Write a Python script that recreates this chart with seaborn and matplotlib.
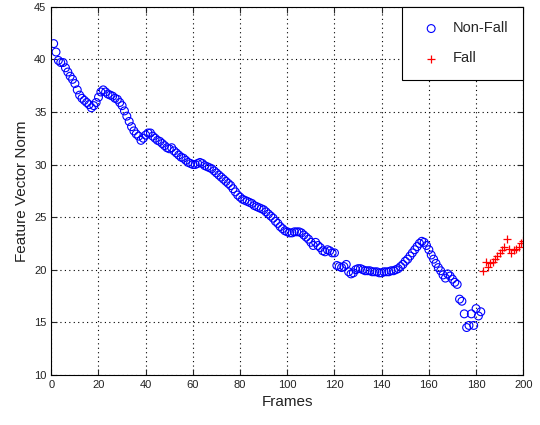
import numpy as np
import pandas as pd
import seaborn as sns
from matplotlib import pyplot as plt

# Norma do vetor por frame
nonfall_values = [
    41.5, 40.7, 39.9, 39.7, 39.7, 39.2, 38.8, 38.4, 38.1, 37.7,
    37.1, 36.6, 36.3, 36.1, 35.9, 35.7, 35.4, 35.6, 35.9, 36.4,
    36.9, 37.1, 36.9, 36.7, 36.6, 36.5, 36.3, 36.2, 35.9, 35.6,
    35.1, 34.6, 34.1, 33.6, 33.2, 32.9, 32.7, 32.3, 32.5, 32.8,
    33.0, 33.0, 32.7, 32.5, 32.3, 32.2, 32.0, 31.8, 31.6, 31.5,
    31.6, 31.3, 31.1, 30.9, 30.7, 30.6, 30.4, 30.2, 30.1, 30.0,
    30.0, 30.1, 30.2, 30.1, 29.9, 29.8, 29.7, 29.6, 29.4, 29.2,
    29.0, 28.8, 28.6, 28.4, 28.2, 28.0, 27.7, 27.4, 27.1, 26.9,
    26.7, 26.6, 26.5, 26.4, 26.3, 26.1, 26.0, 25.9, 25.8, 25.7,
    25.5, 25.3, 25.1, 24.9, 24.6, 24.4, 24.1, 23.9, 23.7, 23.6,
    23.5, 23.5, 23.6, 23.6, 23.6, 23.5, 23.3, 23.1, 22.9, 22.6,
    22.3, 22.6, 22.3, 22.1, 21.8, 21.7, 21.9, 21.8, 21.6, 21.6,
    20.4, 20.3, 20.2, 20.3, 20.5, 19.8, 19.6, 19.7, 20.0, 20.1,
    20.1, 20.0, 19.9, 19.9, 19.9, 19.8, 19.8, 19.8, 19.7, 19.7,
    19.8, 19.8, 19.8, 19.9, 19.9, 20.0, 20.1, 20.3, 20.5, 20.8,
    21.0, 21.3, 21.6, 21.9, 22.2, 22.5, 22.7, 22.6, 22.3, 21.9,
    21.4, 21.0, 20.6, 20.2, 19.9, 19.5, 19.2, 19.6, 19.4, 19.1,
    18.8, 18.6, 17.2, 17.0, 15.8, 14.5, 14.7, 15.8, 14.7, 16.3,
    15.6, 16.0,
]
fall_values = [
    19.9, 20.7, 20.3, 20.6, 20.7, 21.0, 21.3, 21.6, 21.9, 22.2,
    22.9, 22.0, 21.6, 21.9, 22.0, 22.2, 22.5, 22.7,
]
nonfall_frames = list(range(1, len(nonfall_values) + 1))
fall_frames = list(range(len(nonfall_values) + 1, len(nonfall_values) + len(fall_values) + 1))
x_ticks = [0, 20, 40, 60, 80, 100, 120, 140, 160, 180, 200]
y_ticks = [10, 15, 20, 25, 30, 35, 40, 45]

df_nonfall = pd.DataFrame({"frame": nonfall_frames, "norm": nonfall_values})
df_fall = pd.DataFrame({"frame": fall_frames, "norm": fall_values})

sns.set_style("ticks")
plt.rcParams["font.family"] = ["Liberation Sans", "DejaVu Sans"]

fig = plt.figure(figsize=(5.4, 4.25), dpi=100)
ax = fig.add_axes([0.095, 0.118, 0.874, 0.866])

sns.scatterplot(data=df_nonfall, x="frame", y="norm", ax=ax, marker="o", s=32,
                facecolors="none", edgecolors="blue", linewidth=0.8, label="Non-Fall")
sns.scatterplot(data=df_fall, x="frame", y="norm", ax=ax, marker="+", s=40,
                color="red", linewidth=0.9, label="Fall")

ax.set_xlim(0, 200)
ax.set_ylim(10, 45)
ax.set_xticks(x_ticks)
ax.set_yticks(y_ticks)
ax.grid(True, linestyle=(0, (1, 3)), color="black", linewidth=0.8)
ax.tick_params(direction="in", length=4, labelsize=8, top=True, right=True,
               labelcolor="#222222")
for s in ax.spines.values():
    s.set_visible(True)
    s.set_color("black")
    s.set_linewidth(0.8)

ax.set_xlabel("Frames", fontsize=11, color="#222222")
ax.set_ylabel("Feature Vector Norm", fontsize=11, color="#222222")

leg = ax.legend(loc="upper right", fontsize=10.5, frameon=True, fancybox=False,
                edgecolor="black", borderpad=1.0, labelspacing=1.1, handletextpad=0.5,
                borderaxespad=0.0, framealpha=1)
leg.get_frame().set_linewidth(0.8)

fig.savefig("out.png", dpi=100)
